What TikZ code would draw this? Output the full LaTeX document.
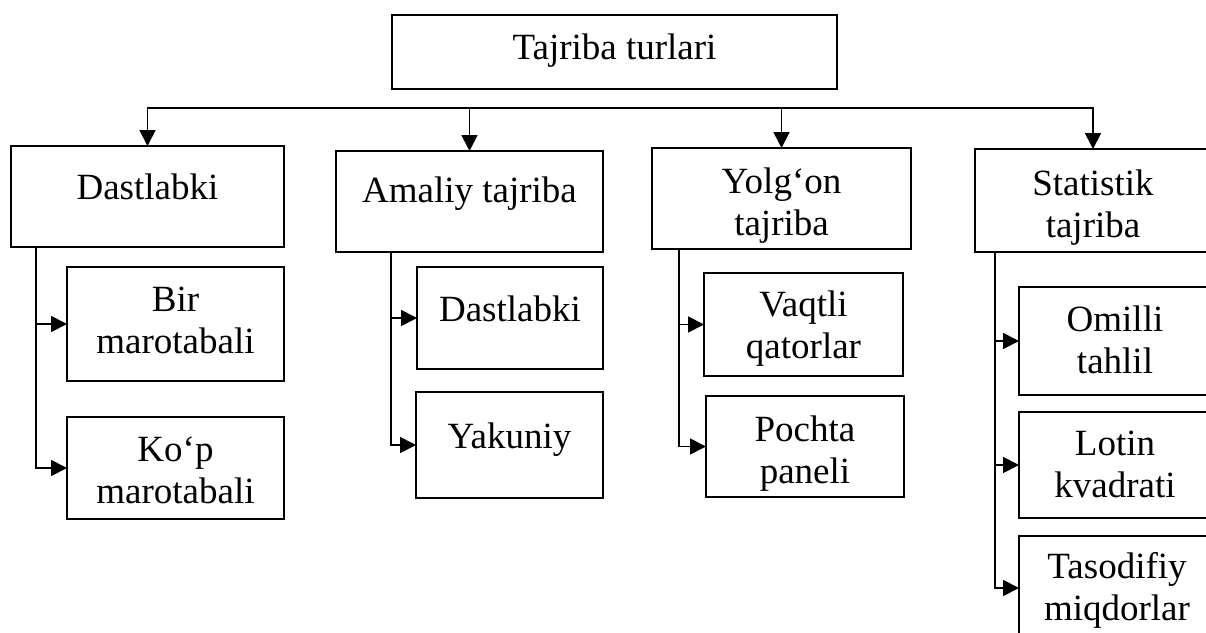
\documentclass[tikz,border=0pt]{standalone}
\usepackage{fontspec}
\setmainfont{Liberation Serif}
\usetikzlibrary{arrows.meta}
\begin{document}
\begin{tikzpicture}[x=1pt,y=-1pt,
  box/.style={draw, line width=1.8pt, inner sep=0pt, outer sep=0pt},
  txt/.style={font=\fontsize{37}{42}\selectfont, align=center, inner sep=0pt, anchor=north},
  link/.style={line width=1.8pt},
  arr/.style={link, -{Triangle[length=16pt,width=16pt]}}]
\useasboundingbox (0,0) rectangle (1206,632);
\clip (0,0) rectangle (1206,632);

% root
\node[box, minimum width=445pt, minimum height=74pt] (root) at (614.5,52) {};
\node[txt] (roott) at (614.5,29.9) {\strut Tajriba turlari};

% first level
\node[box, minimum width=273pt, minimum height=101pt] (b1) at (147.5,196.5) {};
\node[box, minimum width=267pt, minimum height=101pt] (b2) at (469.5,201.5) {};
\node[box, minimum width=259pt, minimum height=101pt] (b3) at (781.5,198.5) {};
\node[box, minimum width=236pt, minimum height=103pt] (b4) at (1093,200.5) {};
\node[txt] (b1t) at (147.5,169.9) {\strut Dastlabki};
\node[txt] (b2t) at (469.5,173.3) {\strut Amaliy tajriba};
\node[txt] (b3t) at (781.5,163.9) {\strut Yolg‘on\\\strut tajriba};
\node[txt] (b4t) at (1093,165.6) {\strut Statistik\\\strut tajriba};

% second level
\node[box, minimum width=217pt, minimum height=114pt] (c11) at (175.5,324) {};
\node[box, minimum width=217pt, minimum height=102pt] (c12) at (175.5,468) {};
\node[box, minimum width=186pt, minimum height=102pt] (c21) at (510,318) {};
\node[box, minimum width=187pt, minimum height=106pt] (c22) at (509.5,445) {};
\node[box, minimum width=199pt, minimum height=103pt] (c31) at (803.5,324.5) {};
\node[box, minimum width=198pt, minimum height=101pt] (c32) at (805,446.5) {};
\node[box, minimum width=192pt, minimum height=108pt] (c41) at (1115,341) {};
\node[box, minimum width=192pt, minimum height=106pt] (c42) at (1115,465) {};
\node[box, minimum width=192pt, minimum height=104pt] (c43) at (1115,588) {};

\node[txt] (c11t) at (175.5,282.3) {\strut Bir\\\strut marotabali};
\node[txt] (c12t) at (175.5,432.3) {\strut Ko‘p\\\strut marotabali};
\node[txt] (c21t) at (510,292.3) {\strut Dastlabki};
\node[txt] (c22t) at (509.5,418.9) {\strut Yakuniy};
\node[txt] (c31t) at (803.5,287.3) {\strut Vaqtli\\\strut qatorlar};
\node[txt] (c32t) at (805,412.3) {\strut Pochta\\\strut paneli};
\node[txt] (c41t) at (1115,302.3) {\strut Omilli\\\strut tahlil};
\node[txt] (c42t) at (1115,425.6) {\strut Lotin\\\strut kvadrati};
\node[txt] (c43t) at (1117,548.9) {\strut Tasodifiy\\\strut miqdorlar};

% distribution bar and arrows down to the first level
\coordinate (bar) at (0,108);
\draw[link, line cap=rect] (b1.north |- bar) -- (b4.north |- bar);
\foreach \b in {b1,b2,b3,b4}
  \draw[arr] (\b.north |- bar) -- (\b.north);

% branches to the second level
\draw[arr] ([xshift=25pt]b1.south west) |- (c11.west);
\draw[arr] ([xshift=25pt]b1.south west) |- (c12.west);
\draw[arr] ([xshift=55pt]b2.south west) |- (c21.west);
\draw[arr] ([xshift=55pt]b2.south west) |- (c22.west);
\draw[arr] ([xshift=27pt]b3.south west) |- (c31.west);
\draw[arr] ([xshift=27pt]b3.south west) |- (c32.west);
\draw[arr] ([xshift=20pt]b4.south west) |- (c41.west);
\draw[arr] ([xshift=20pt]b4.south west) |- (c42.west);
\draw[arr] ([xshift=20pt]b4.south west) |- (c43.west);
\end{tikzpicture}
\end{document}
